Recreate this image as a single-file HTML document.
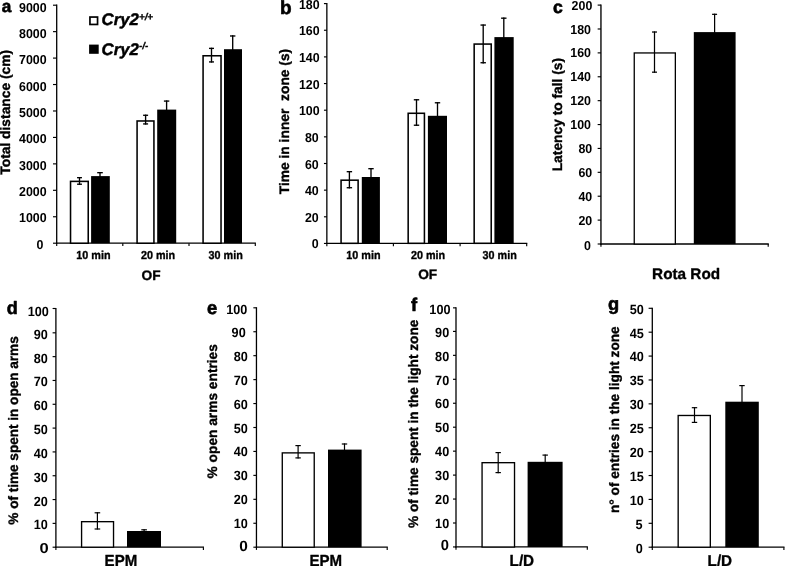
<!DOCTYPE html>
<html><head><meta charset="utf-8"><title>Figure</title>
<style>
html,body{margin:0;padding:0;background:#fff;}
body{width:787px;height:566px;overflow:hidden;}
svg{display:block;font-family:"Liberation Sans", sans-serif;fill:#000;will-change:transform;text-rendering:geometricPrecision;}
</style></head><body>
<svg width="787" height="566" viewBox="0 0 787 566">
<rect x="0" y="0" width="787" height="566" fill="#fff"/>
<line x1="56.70" y1="4.60" x2="56.70" y2="243.85" stroke="#000" stroke-width="1.3"/>
<line x1="56.05" y1="243.20" x2="255.90" y2="243.20" stroke="#000" stroke-width="1.3"/>
<line x1="53.00" y1="243.20" x2="56.70" y2="243.20" stroke="#000" stroke-width="1.15"/>
<text x="43.50" y="248.50" font-size="13.0" font-weight="bold" font-style="normal" text-anchor="end" textLength="6.90" lengthAdjust="spacingAndGlyphs">0</text>
<line x1="53.00" y1="216.76" x2="56.70" y2="216.76" stroke="#000" stroke-width="1.15"/>
<text x="46.60" y="222.44" font-size="13.0" font-weight="bold" font-style="normal" text-anchor="end" textLength="27.60" lengthAdjust="spacingAndGlyphs">1000</text>
<line x1="53.00" y1="190.31" x2="56.70" y2="190.31" stroke="#000" stroke-width="1.15"/>
<text x="46.60" y="196.07" font-size="13.0" font-weight="bold" font-style="normal" text-anchor="end" textLength="27.60" lengthAdjust="spacingAndGlyphs">2000</text>
<line x1="53.00" y1="163.87" x2="56.70" y2="163.87" stroke="#000" stroke-width="1.15"/>
<text x="46.60" y="169.71" font-size="13.0" font-weight="bold" font-style="normal" text-anchor="end" textLength="27.60" lengthAdjust="spacingAndGlyphs">3000</text>
<line x1="53.00" y1="137.42" x2="56.70" y2="137.42" stroke="#000" stroke-width="1.15"/>
<text x="46.60" y="143.34" font-size="13.0" font-weight="bold" font-style="normal" text-anchor="end" textLength="27.60" lengthAdjust="spacingAndGlyphs">4000</text>
<line x1="53.00" y1="110.98" x2="56.70" y2="110.98" stroke="#000" stroke-width="1.15"/>
<text x="46.60" y="116.98" font-size="13.0" font-weight="bold" font-style="normal" text-anchor="end" textLength="27.60" lengthAdjust="spacingAndGlyphs">5000</text>
<line x1="53.00" y1="84.53" x2="56.70" y2="84.53" stroke="#000" stroke-width="1.15"/>
<text x="46.60" y="90.61" font-size="13.0" font-weight="bold" font-style="normal" text-anchor="end" textLength="27.60" lengthAdjust="spacingAndGlyphs">6000</text>
<line x1="53.00" y1="58.09" x2="56.70" y2="58.09" stroke="#000" stroke-width="1.15"/>
<text x="46.60" y="64.25" font-size="13.0" font-weight="bold" font-style="normal" text-anchor="end" textLength="27.60" lengthAdjust="spacingAndGlyphs">7000</text>
<line x1="53.00" y1="31.64" x2="56.70" y2="31.64" stroke="#000" stroke-width="1.15"/>
<text x="46.60" y="37.88" font-size="13.0" font-weight="bold" font-style="normal" text-anchor="end" textLength="27.60" lengthAdjust="spacingAndGlyphs">8000</text>
<line x1="53.00" y1="5.20" x2="56.70" y2="5.20" stroke="#000" stroke-width="1.15"/>
<text x="46.60" y="12.12" font-size="13.0" font-weight="bold" font-style="normal" text-anchor="end" textLength="27.60" lengthAdjust="spacingAndGlyphs">9000</text>
<line x1="56.70" y1="243.20" x2="56.70" y2="245.90" stroke="#000" stroke-width="1.15"/>
<line x1="122.80" y1="243.20" x2="122.80" y2="245.90" stroke="#000" stroke-width="1.15"/>
<line x1="189.00" y1="243.20" x2="189.00" y2="245.90" stroke="#000" stroke-width="1.15"/>
<line x1="255.30" y1="243.20" x2="255.30" y2="245.90" stroke="#000" stroke-width="1.15"/>
<rect x="70.53" y="181.38" width="17.70" height="61.82" fill="#fff" stroke="#000" stroke-width="1.55"/>
<rect x="91.10" y="176.10" width="18.70" height="67.10" fill="#000"/>
<line x1="79.50" y1="177.00" x2="79.50" y2="184.90" stroke="#000" stroke-width="1.35"/>
<line x1="77.05" y1="177.68" x2="81.95" y2="177.68" stroke="#000" stroke-width="1.35"/>
<line x1="77.05" y1="184.22" x2="81.95" y2="184.22" stroke="#000" stroke-width="1.35"/>
<line x1="100.00" y1="172.00" x2="100.00" y2="177.50" stroke="#000" stroke-width="1.35"/>
<line x1="97.20" y1="172.68" x2="102.80" y2="172.68" stroke="#000" stroke-width="1.35"/>
<rect x="137.08" y="120.98" width="16.85" height="122.22" fill="#fff" stroke="#000" stroke-width="1.55"/>
<rect x="157.20" y="109.60" width="19.00" height="133.60" fill="#000"/>
<line x1="145.60" y1="114.60" x2="145.60" y2="124.60" stroke="#000" stroke-width="1.35"/>
<line x1="143.10" y1="115.28" x2="148.10" y2="115.28" stroke="#000" stroke-width="1.35"/>
<line x1="143.10" y1="123.92" x2="148.10" y2="123.92" stroke="#000" stroke-width="1.35"/>
<line x1="166.60" y1="100.40" x2="166.60" y2="111.00" stroke="#000" stroke-width="1.35"/>
<line x1="163.90" y1="101.08" x2="169.30" y2="101.08" stroke="#000" stroke-width="1.35"/>
<rect x="203.08" y="55.77" width="17.95" height="187.42" fill="#fff" stroke="#000" stroke-width="1.55"/>
<rect x="224.00" y="49.20" width="18.00" height="194.00" fill="#000"/>
<line x1="211.50" y1="47.70" x2="211.50" y2="62.60" stroke="#000" stroke-width="1.35"/>
<line x1="209.00" y1="48.38" x2="214.00" y2="48.38" stroke="#000" stroke-width="1.35"/>
<line x1="209.00" y1="61.92" x2="214.00" y2="61.92" stroke="#000" stroke-width="1.35"/>
<line x1="232.70" y1="35.30" x2="232.70" y2="51.00" stroke="#000" stroke-width="1.35"/>
<line x1="230.00" y1="35.98" x2="235.40" y2="35.98" stroke="#000" stroke-width="1.35"/>
<text x="93.40" y="258.80" font-size="11.6" font-weight="bold" font-style="normal" text-anchor="middle" textLength="34.20" lengthAdjust="spacingAndGlyphs" stroke="#000" stroke-width="0.35" stroke-linejoin="round">10 min</text>
<text x="158.10" y="258.80" font-size="11.6" font-weight="bold" font-style="normal" text-anchor="middle" textLength="34.20" lengthAdjust="spacingAndGlyphs" stroke="#000" stroke-width="0.35" stroke-linejoin="round">20 min</text>
<text x="225.70" y="258.80" font-size="11.6" font-weight="bold" font-style="normal" text-anchor="middle" textLength="34.20" lengthAdjust="spacingAndGlyphs" stroke="#000" stroke-width="0.35" stroke-linejoin="round">30 min</text>
<text x="141.60" y="279.60" font-size="13.7" font-weight="bold" font-style="normal" text-anchor="start" stroke="#000" stroke-width="0.35" stroke-linejoin="round">OF</text>
<text x="1.70" y="12.00" font-size="17.2" font-weight="bold" font-style="normal" text-anchor="start" stroke="#000" stroke-width="0.6" stroke-linejoin="round">a</text>
<text transform="translate(10.10,174.70) rotate(-90)" font-size="13.7" font-weight="bold" textLength="124.80" lengthAdjust="spacingAndGlyphs" stroke="#000" stroke-width="0.35" stroke-linejoin="round" xml:space="preserve" style="white-space:pre">Total distance (cm)</text>
<rect x="89.95" y="17.05" width="7.6" height="7.4" fill="#fff" stroke="#000" stroke-width="1.7"/>
<rect x="89.1" y="44.6" width="9.6" height="9.2" fill="#000"/>
<text x="101.6" y="25.3" font-size="16.8" font-weight="bold" font-style="italic" stroke="#000" stroke-width="0.45" stroke-linejoin="round">Cry2<tspan dy="-5.3" font-size="9.8" stroke-width="0.3">+/+</tspan></text>
<text x="101.6" y="54.5" font-size="16.8" font-weight="bold" font-style="italic" stroke="#000" stroke-width="0.45" stroke-linejoin="round">Cry2<tspan dy="-5.3" font-size="9.8" stroke-width="0.3">-/-</tspan></text>
<line x1="326.85" y1="3.00" x2="326.85" y2="244.10" stroke="#000" stroke-width="1.3"/>
<line x1="326.20" y1="243.45" x2="527.30" y2="243.45" stroke="#000" stroke-width="1.3"/>
<line x1="323.95" y1="243.45" x2="326.85" y2="243.45" stroke="#000" stroke-width="1.15"/>
<text x="318.60" y="247.75" font-size="13.0" font-weight="bold" font-style="normal" text-anchor="end" textLength="6.90" lengthAdjust="spacingAndGlyphs">0</text>
<line x1="323.95" y1="216.80" x2="326.85" y2="216.80" stroke="#000" stroke-width="1.15"/>
<text x="318.70" y="222.00" font-size="13.0" font-weight="bold" font-style="normal" text-anchor="end" textLength="13.80" lengthAdjust="spacingAndGlyphs">20</text>
<line x1="323.95" y1="190.15" x2="326.85" y2="190.15" stroke="#000" stroke-width="1.15"/>
<text x="318.70" y="195.35" font-size="13.0" font-weight="bold" font-style="normal" text-anchor="end" textLength="13.80" lengthAdjust="spacingAndGlyphs">40</text>
<line x1="323.95" y1="163.50" x2="326.85" y2="163.50" stroke="#000" stroke-width="1.15"/>
<text x="318.70" y="168.70" font-size="13.0" font-weight="bold" font-style="normal" text-anchor="end" textLength="13.80" lengthAdjust="spacingAndGlyphs">60</text>
<line x1="323.95" y1="136.85" x2="326.85" y2="136.85" stroke="#000" stroke-width="1.15"/>
<text x="318.70" y="142.05" font-size="13.0" font-weight="bold" font-style="normal" text-anchor="end" textLength="13.80" lengthAdjust="spacingAndGlyphs">80</text>
<line x1="323.95" y1="110.20" x2="326.85" y2="110.20" stroke="#000" stroke-width="1.15"/>
<text x="319.60" y="115.40" font-size="13.0" font-weight="bold" font-style="normal" text-anchor="end" textLength="20.70" lengthAdjust="spacingAndGlyphs">100</text>
<line x1="323.95" y1="83.55" x2="326.85" y2="83.55" stroke="#000" stroke-width="1.15"/>
<text x="319.60" y="88.75" font-size="13.0" font-weight="bold" font-style="normal" text-anchor="end" textLength="20.70" lengthAdjust="spacingAndGlyphs">120</text>
<line x1="323.95" y1="56.90" x2="326.85" y2="56.90" stroke="#000" stroke-width="1.15"/>
<text x="319.60" y="62.10" font-size="13.0" font-weight="bold" font-style="normal" text-anchor="end" textLength="20.70" lengthAdjust="spacingAndGlyphs">140</text>
<line x1="323.95" y1="30.25" x2="326.85" y2="30.25" stroke="#000" stroke-width="1.15"/>
<text x="319.60" y="35.45" font-size="13.0" font-weight="bold" font-style="normal" text-anchor="end" textLength="20.70" lengthAdjust="spacingAndGlyphs">160</text>
<line x1="323.95" y1="3.60" x2="326.85" y2="3.60" stroke="#000" stroke-width="1.15"/>
<text x="319.60" y="8.60" font-size="13.0" font-weight="bold" font-style="normal" text-anchor="end" textLength="20.70" lengthAdjust="spacingAndGlyphs">180</text>
<line x1="326.85" y1="243.45" x2="326.85" y2="246.15" stroke="#000" stroke-width="1.15"/>
<line x1="393.40" y1="243.45" x2="393.40" y2="246.15" stroke="#000" stroke-width="1.15"/>
<line x1="460.10" y1="243.45" x2="460.10" y2="246.15" stroke="#000" stroke-width="1.15"/>
<line x1="526.70" y1="243.45" x2="526.70" y2="246.15" stroke="#000" stroke-width="1.15"/>
<rect x="341.07" y="180.18" width="17.05" height="63.13" fill="#fff" stroke="#000" stroke-width="1.55"/>
<rect x="361.80" y="177.00" width="18.10" height="66.30" fill="#000"/>
<line x1="349.40" y1="171.00" x2="349.40" y2="188.40" stroke="#000" stroke-width="1.35"/>
<line x1="346.70" y1="171.68" x2="352.10" y2="171.68" stroke="#000" stroke-width="1.35"/>
<line x1="346.70" y1="187.72" x2="352.10" y2="187.72" stroke="#000" stroke-width="1.35"/>
<line x1="371.00" y1="168.00" x2="371.00" y2="178.50" stroke="#000" stroke-width="1.35"/>
<line x1="368.30" y1="168.68" x2="373.70" y2="168.68" stroke="#000" stroke-width="1.35"/>
<rect x="408.17" y="113.28" width="16.25" height="130.03" fill="#fff" stroke="#000" stroke-width="1.55"/>
<rect x="427.90" y="115.80" width="19.10" height="127.50" fill="#000"/>
<line x1="416.50" y1="99.10" x2="416.50" y2="125.90" stroke="#000" stroke-width="1.35"/>
<line x1="413.80" y1="99.78" x2="419.20" y2="99.78" stroke="#000" stroke-width="1.35"/>
<line x1="413.80" y1="125.22" x2="419.20" y2="125.22" stroke="#000" stroke-width="1.35"/>
<line x1="437.50" y1="102.10" x2="437.50" y2="117.00" stroke="#000" stroke-width="1.35"/>
<line x1="434.80" y1="102.78" x2="440.20" y2="102.78" stroke="#000" stroke-width="1.35"/>
<rect x="474.17" y="44.07" width="17.05" height="199.22" fill="#fff" stroke="#000" stroke-width="1.55"/>
<rect x="494.40" y="37.10" width="19.30" height="206.20" fill="#000"/>
<line x1="483.20" y1="24.40" x2="483.20" y2="63.40" stroke="#000" stroke-width="1.35"/>
<line x1="480.50" y1="25.07" x2="485.90" y2="25.07" stroke="#000" stroke-width="1.35"/>
<line x1="480.50" y1="62.73" x2="485.90" y2="62.73" stroke="#000" stroke-width="1.35"/>
<line x1="503.80" y1="17.50" x2="503.80" y2="38.50" stroke="#000" stroke-width="1.35"/>
<line x1="501.10" y1="18.18" x2="506.50" y2="18.18" stroke="#000" stroke-width="1.35"/>
<text x="363.40" y="258.70" font-size="11.6" font-weight="bold" font-style="normal" text-anchor="middle" textLength="34.20" lengthAdjust="spacingAndGlyphs" stroke="#000" stroke-width="0.35" stroke-linejoin="round">10 min</text>
<text x="428.10" y="258.70" font-size="11.6" font-weight="bold" font-style="normal" text-anchor="middle" textLength="34.20" lengthAdjust="spacingAndGlyphs" stroke="#000" stroke-width="0.35" stroke-linejoin="round">20 min</text>
<text x="499.70" y="258.70" font-size="11.6" font-weight="bold" font-style="normal" text-anchor="middle" textLength="34.20" lengthAdjust="spacingAndGlyphs" stroke="#000" stroke-width="0.35" stroke-linejoin="round">30 min</text>
<text x="418.20" y="279.10" font-size="13.7" font-weight="bold" font-style="normal" text-anchor="start" stroke="#000" stroke-width="0.35" stroke-linejoin="round">OF</text>
<text x="279.90" y="13.50" font-size="19.0" font-weight="bold" font-style="normal" text-anchor="start" stroke="#000" stroke-width="0.6" stroke-linejoin="round">b</text>
<text transform="translate(289.10,194.30) rotate(-90)" font-size="13.7" font-weight="bold" textLength="145.50" lengthAdjust="spacingAndGlyphs" stroke="#000" stroke-width="0.35" stroke-linejoin="round" xml:space="preserve" style="white-space:pre">Time in inner  zone (s)</text>
<line x1="600.95" y1="4.50" x2="600.95" y2="244.65" stroke="#000" stroke-width="1.35"/>
<line x1="600.30" y1="244.00" x2="768.80" y2="244.00" stroke="#000" stroke-width="1.35"/>
<line x1="597.65" y1="244.00" x2="600.95" y2="244.00" stroke="#000" stroke-width="1.15"/>
<text x="590.90" y="249.60" font-size="13.0" font-weight="bold" font-style="normal" text-anchor="end" textLength="6.90" lengthAdjust="spacingAndGlyphs">0</text>
<line x1="597.65" y1="220.11" x2="600.95" y2="220.11" stroke="#000" stroke-width="1.15"/>
<text x="592.20" y="224.71" font-size="13.0" font-weight="bold" font-style="normal" text-anchor="end" textLength="13.80" lengthAdjust="spacingAndGlyphs">20</text>
<line x1="597.65" y1="196.22" x2="600.95" y2="196.22" stroke="#000" stroke-width="1.15"/>
<text x="592.20" y="200.82" font-size="13.0" font-weight="bold" font-style="normal" text-anchor="end" textLength="13.80" lengthAdjust="spacingAndGlyphs">40</text>
<line x1="597.65" y1="172.33" x2="600.95" y2="172.33" stroke="#000" stroke-width="1.15"/>
<text x="592.20" y="176.93" font-size="13.0" font-weight="bold" font-style="normal" text-anchor="end" textLength="13.80" lengthAdjust="spacingAndGlyphs">60</text>
<line x1="597.65" y1="148.44" x2="600.95" y2="148.44" stroke="#000" stroke-width="1.15"/>
<text x="592.20" y="153.04" font-size="13.0" font-weight="bold" font-style="normal" text-anchor="end" textLength="13.80" lengthAdjust="spacingAndGlyphs">80</text>
<line x1="597.65" y1="124.55" x2="600.95" y2="124.55" stroke="#000" stroke-width="1.15"/>
<text x="591.00" y="129.15" font-size="13.0" font-weight="bold" font-style="normal" text-anchor="end" textLength="20.70" lengthAdjust="spacingAndGlyphs">100</text>
<line x1="597.65" y1="100.66" x2="600.95" y2="100.66" stroke="#000" stroke-width="1.15"/>
<text x="591.00" y="105.26" font-size="13.0" font-weight="bold" font-style="normal" text-anchor="end" textLength="20.70" lengthAdjust="spacingAndGlyphs">120</text>
<line x1="597.65" y1="76.77" x2="600.95" y2="76.77" stroke="#000" stroke-width="1.15"/>
<text x="591.00" y="81.37" font-size="13.0" font-weight="bold" font-style="normal" text-anchor="end" textLength="20.70" lengthAdjust="spacingAndGlyphs">140</text>
<line x1="597.65" y1="52.88" x2="600.95" y2="52.88" stroke="#000" stroke-width="1.15"/>
<text x="591.00" y="57.48" font-size="13.0" font-weight="bold" font-style="normal" text-anchor="end" textLength="20.70" lengthAdjust="spacingAndGlyphs">160</text>
<line x1="597.65" y1="28.99" x2="600.95" y2="28.99" stroke="#000" stroke-width="1.15"/>
<text x="591.00" y="33.59" font-size="13.0" font-weight="bold" font-style="normal" text-anchor="end" textLength="20.70" lengthAdjust="spacingAndGlyphs">180</text>
<line x1="597.65" y1="5.10" x2="600.95" y2="5.10" stroke="#000" stroke-width="1.15"/>
<text x="592.30" y="10.10" font-size="13.0" font-weight="bold" font-style="normal" text-anchor="end" textLength="20.70" lengthAdjust="spacingAndGlyphs">200</text>
<line x1="600.95" y1="244.00" x2="600.95" y2="246.70" stroke="#000" stroke-width="1.15"/>
<line x1="768.20" y1="244.00" x2="768.20" y2="246.70" stroke="#000" stroke-width="1.15"/>
<rect x="634.25" y="52.95" width="41.10" height="191.05" fill="#fff" stroke="#000" stroke-width="1.3"/>
<rect x="693.80" y="32.10" width="41.80" height="211.90" fill="#000"/>
<line x1="654.50" y1="31.40" x2="654.50" y2="72.80" stroke="#000" stroke-width="1.25"/>
<line x1="652.00" y1="32.02" x2="657.00" y2="32.02" stroke="#000" stroke-width="1.25"/>
<line x1="652.00" y1="72.17" x2="657.00" y2="72.17" stroke="#000" stroke-width="1.25"/>
<line x1="714.60" y1="13.70" x2="714.60" y2="34.50" stroke="#000" stroke-width="1.25"/>
<line x1="712.10" y1="14.32" x2="717.10" y2="14.32" stroke="#000" stroke-width="1.25"/>
<text x="652.10" y="279.10" font-size="15.3" font-weight="bold" font-style="normal" text-anchor="start" stroke="#000" stroke-width="0.35" stroke-linejoin="round">Rota Rod</text>
<text x="553.00" y="12.60" font-size="17.6" font-weight="bold" font-style="normal" text-anchor="start" stroke="#000" stroke-width="0.6" stroke-linejoin="round">c</text>
<text transform="translate(561.60,171.30) rotate(-90)" font-size="13.7" font-weight="bold" textLength="113.40" lengthAdjust="spacingAndGlyphs" stroke="#000" stroke-width="0.35" stroke-linejoin="round" xml:space="preserve" style="white-space:pre">Latency to fall (s)</text>
<line x1="55.90" y1="307.90" x2="55.90" y2="547.85" stroke="#000" stroke-width="1.3"/>
<line x1="55.25" y1="547.20" x2="204.00" y2="547.20" stroke="#000" stroke-width="1.3"/>
<line x1="52.60" y1="547.20" x2="55.90" y2="547.20" stroke="#000" stroke-width="1.15"/>
<text x="48.60" y="552.60" font-size="14.5" font-weight="bold" font-style="normal" text-anchor="end" textLength="9.20" lengthAdjust="spacingAndGlyphs">0</text>
<line x1="52.60" y1="523.38" x2="55.90" y2="523.38" stroke="#000" stroke-width="1.15"/>
<text x="47.80" y="529.38" font-size="13.4" font-weight="bold" font-style="normal" text-anchor="end" textLength="14.10" lengthAdjust="spacingAndGlyphs">10</text>
<line x1="52.60" y1="499.56" x2="55.90" y2="499.56" stroke="#000" stroke-width="1.15"/>
<text x="47.80" y="505.56" font-size="13.4" font-weight="bold" font-style="normal" text-anchor="end" textLength="14.10" lengthAdjust="spacingAndGlyphs">20</text>
<line x1="52.60" y1="475.74" x2="55.90" y2="475.74" stroke="#000" stroke-width="1.15"/>
<text x="47.80" y="481.74" font-size="13.4" font-weight="bold" font-style="normal" text-anchor="end" textLength="14.10" lengthAdjust="spacingAndGlyphs">30</text>
<line x1="52.60" y1="451.92" x2="55.90" y2="451.92" stroke="#000" stroke-width="1.15"/>
<text x="47.80" y="457.92" font-size="13.4" font-weight="bold" font-style="normal" text-anchor="end" textLength="14.10" lengthAdjust="spacingAndGlyphs">40</text>
<line x1="52.60" y1="428.10" x2="55.90" y2="428.10" stroke="#000" stroke-width="1.15"/>
<text x="47.80" y="434.10" font-size="13.4" font-weight="bold" font-style="normal" text-anchor="end" textLength="14.10" lengthAdjust="spacingAndGlyphs">50</text>
<line x1="52.60" y1="404.28" x2="55.90" y2="404.28" stroke="#000" stroke-width="1.15"/>
<text x="47.80" y="410.28" font-size="13.4" font-weight="bold" font-style="normal" text-anchor="end" textLength="14.10" lengthAdjust="spacingAndGlyphs">60</text>
<line x1="52.60" y1="380.46" x2="55.90" y2="380.46" stroke="#000" stroke-width="1.15"/>
<text x="47.80" y="386.46" font-size="13.4" font-weight="bold" font-style="normal" text-anchor="end" textLength="14.10" lengthAdjust="spacingAndGlyphs">70</text>
<line x1="52.60" y1="356.64" x2="55.90" y2="356.64" stroke="#000" stroke-width="1.15"/>
<text x="47.80" y="362.64" font-size="13.4" font-weight="bold" font-style="normal" text-anchor="end" textLength="14.10" lengthAdjust="spacingAndGlyphs">80</text>
<line x1="52.60" y1="332.82" x2="55.90" y2="332.82" stroke="#000" stroke-width="1.15"/>
<text x="47.80" y="338.82" font-size="13.4" font-weight="bold" font-style="normal" text-anchor="end" textLength="14.10" lengthAdjust="spacingAndGlyphs">90</text>
<line x1="52.60" y1="308.50" x2="55.90" y2="308.50" stroke="#000" stroke-width="1.15"/>
<text x="48.80" y="315.50" font-size="13.4" font-weight="bold" font-style="normal" text-anchor="end" textLength="21.15" lengthAdjust="spacingAndGlyphs">100</text>
<line x1="55.90" y1="547.20" x2="55.90" y2="549.90" stroke="#000" stroke-width="1.15"/>
<line x1="203.40" y1="547.20" x2="203.40" y2="549.90" stroke="#000" stroke-width="1.15"/>
<rect x="81.58" y="521.67" width="31.95" height="25.53" fill="#fff" stroke="#000" stroke-width="1.35"/>
<rect x="127.00" y="531.00" width="34.00" height="16.20" fill="#000"/>
<line x1="97.40" y1="512.20" x2="97.40" y2="529.60" stroke="#000" stroke-width="1.2"/>
<line x1="94.60" y1="512.80" x2="100.20" y2="512.80" stroke="#000" stroke-width="1.2"/>
<line x1="94.60" y1="529.00" x2="100.20" y2="529.00" stroke="#000" stroke-width="1.2"/>
<line x1="144.10" y1="529.20" x2="144.10" y2="532.50" stroke="#000" stroke-width="1.2"/>
<line x1="141.30" y1="529.80" x2="146.90" y2="529.80" stroke="#000" stroke-width="1.2"/>
<text x="104.60" y="565.90" font-size="16.0" font-weight="bold" font-style="normal" text-anchor="start" textLength="32.60" lengthAdjust="spacingAndGlyphs" stroke="#000" stroke-width="0.35" stroke-linejoin="round">EPM</text>
<text x="6.80" y="314.00" font-size="18" font-weight="bold" font-style="normal" text-anchor="start" stroke="#000" stroke-width="0.6" stroke-linejoin="round">d</text>
<text transform="translate(17.60,524.70) rotate(-90)" font-size="13.7" font-weight="bold" textLength="188.40" lengthAdjust="spacingAndGlyphs" stroke="#000" stroke-width="0.35" stroke-linejoin="round" xml:space="preserve" style="white-space:pre">% of time spent in open arms</text>
<line x1="256.45" y1="307.20" x2="256.45" y2="547.85" stroke="#000" stroke-width="1.3"/>
<line x1="255.80" y1="547.20" x2="387.80" y2="547.20" stroke="#000" stroke-width="1.3"/>
<line x1="253.35" y1="547.20" x2="256.45" y2="547.20" stroke="#000" stroke-width="1.15"/>
<text x="247.85" y="550.70" font-size="14.8" font-weight="bold" font-style="normal" text-anchor="end" textLength="8.60" lengthAdjust="spacingAndGlyphs">0</text>
<line x1="253.35" y1="523.26" x2="256.45" y2="523.26" stroke="#000" stroke-width="1.15"/>
<text x="247.80" y="527.86" font-size="13.4" font-weight="bold" font-style="normal" text-anchor="end" textLength="14.10" lengthAdjust="spacingAndGlyphs">10</text>
<line x1="253.35" y1="499.32" x2="256.45" y2="499.32" stroke="#000" stroke-width="1.15"/>
<text x="247.80" y="504.02" font-size="13.4" font-weight="bold" font-style="normal" text-anchor="end" textLength="14.10" lengthAdjust="spacingAndGlyphs">20</text>
<line x1="253.35" y1="475.38" x2="256.45" y2="475.38" stroke="#000" stroke-width="1.15"/>
<text x="247.80" y="480.18" font-size="13.4" font-weight="bold" font-style="normal" text-anchor="end" textLength="14.10" lengthAdjust="spacingAndGlyphs">30</text>
<line x1="253.35" y1="451.44" x2="256.45" y2="451.44" stroke="#000" stroke-width="1.15"/>
<text x="247.80" y="456.34" font-size="13.4" font-weight="bold" font-style="normal" text-anchor="end" textLength="14.10" lengthAdjust="spacingAndGlyphs">40</text>
<line x1="253.35" y1="427.50" x2="256.45" y2="427.50" stroke="#000" stroke-width="1.15"/>
<text x="247.80" y="432.50" font-size="13.4" font-weight="bold" font-style="normal" text-anchor="end" textLength="14.10" lengthAdjust="spacingAndGlyphs">50</text>
<line x1="253.35" y1="403.56" x2="256.45" y2="403.56" stroke="#000" stroke-width="1.15"/>
<text x="247.80" y="408.66" font-size="13.4" font-weight="bold" font-style="normal" text-anchor="end" textLength="14.10" lengthAdjust="spacingAndGlyphs">60</text>
<line x1="253.35" y1="379.62" x2="256.45" y2="379.62" stroke="#000" stroke-width="1.15"/>
<text x="247.80" y="384.82" font-size="13.4" font-weight="bold" font-style="normal" text-anchor="end" textLength="14.10" lengthAdjust="spacingAndGlyphs">70</text>
<line x1="253.35" y1="355.68" x2="256.45" y2="355.68" stroke="#000" stroke-width="1.15"/>
<text x="247.80" y="360.98" font-size="13.4" font-weight="bold" font-style="normal" text-anchor="end" textLength="14.10" lengthAdjust="spacingAndGlyphs">80</text>
<line x1="253.35" y1="331.74" x2="256.45" y2="331.74" stroke="#000" stroke-width="1.15"/>
<text x="245.70" y="337.14" font-size="13.4" font-weight="bold" font-style="normal" text-anchor="end" textLength="14.10" lengthAdjust="spacingAndGlyphs">90</text>
<line x1="253.35" y1="307.80" x2="256.45" y2="307.80" stroke="#000" stroke-width="1.15"/>
<text x="247.40" y="314.20" font-size="13.4" font-weight="bold" font-style="normal" text-anchor="end" textLength="21.15" lengthAdjust="spacingAndGlyphs">100</text>
<line x1="256.45" y1="547.20" x2="256.45" y2="549.90" stroke="#000" stroke-width="1.15"/>
<line x1="387.20" y1="547.20" x2="387.20" y2="549.90" stroke="#000" stroke-width="1.15"/>
<rect x="282.28" y="452.88" width="31.95" height="94.33" fill="#fff" stroke="#000" stroke-width="1.35"/>
<rect x="328.00" y="449.60" width="33.60" height="97.60" fill="#000"/>
<line x1="298.10" y1="445.00" x2="298.10" y2="458.50" stroke="#000" stroke-width="1.2"/>
<line x1="295.40" y1="445.60" x2="300.80" y2="445.60" stroke="#000" stroke-width="1.2"/>
<line x1="295.40" y1="457.90" x2="300.80" y2="457.90" stroke="#000" stroke-width="1.2"/>
<line x1="344.50" y1="443.40" x2="344.50" y2="451.00" stroke="#000" stroke-width="1.2"/>
<line x1="341.80" y1="444.00" x2="347.20" y2="444.00" stroke="#000" stroke-width="1.2"/>
<text x="309.50" y="565.90" font-size="16.0" font-weight="bold" font-style="normal" text-anchor="start" textLength="32.60" lengthAdjust="spacingAndGlyphs" stroke="#000" stroke-width="0.35" stroke-linejoin="round">EPM</text>
<text x="206.90" y="313.60" font-size="18.3" font-weight="bold" font-style="normal" text-anchor="start" stroke="#000" stroke-width="0.6" stroke-linejoin="round">e</text>
<text transform="translate(216.50,478.40) rotate(-90)" font-size="13.7" font-weight="bold" textLength="134.30" lengthAdjust="spacingAndGlyphs" stroke="#000" stroke-width="0.35" stroke-linejoin="round" xml:space="preserve" style="white-space:pre">% open arms entries</text>
<line x1="456.00" y1="307.25" x2="456.00" y2="547.60" stroke="#000" stroke-width="1.3"/>
<line x1="455.35" y1="546.95" x2="587.90" y2="546.95" stroke="#000" stroke-width="1.3"/>
<line x1="453.00" y1="546.95" x2="456.00" y2="546.95" stroke="#000" stroke-width="1.15"/>
<text x="448.95" y="550.40" font-size="14.8" font-weight="bold" font-style="normal" text-anchor="end" textLength="8.20" lengthAdjust="spacingAndGlyphs">0</text>
<line x1="453.00" y1="523.00" x2="456.00" y2="523.00" stroke="#000" stroke-width="1.15"/>
<text x="449.20" y="527.61" font-size="13.4" font-weight="bold" font-style="normal" text-anchor="end" textLength="14.10" lengthAdjust="spacingAndGlyphs">10</text>
<line x1="453.00" y1="499.05" x2="456.00" y2="499.05" stroke="#000" stroke-width="1.15"/>
<text x="449.20" y="503.77" font-size="13.4" font-weight="bold" font-style="normal" text-anchor="end" textLength="14.10" lengthAdjust="spacingAndGlyphs">20</text>
<line x1="453.00" y1="475.10" x2="456.00" y2="475.10" stroke="#000" stroke-width="1.15"/>
<text x="449.20" y="479.93" font-size="13.4" font-weight="bold" font-style="normal" text-anchor="end" textLength="14.10" lengthAdjust="spacingAndGlyphs">30</text>
<line x1="453.00" y1="451.15" x2="456.00" y2="451.15" stroke="#000" stroke-width="1.15"/>
<text x="449.20" y="456.09" font-size="13.4" font-weight="bold" font-style="normal" text-anchor="end" textLength="14.10" lengthAdjust="spacingAndGlyphs">40</text>
<line x1="453.00" y1="427.20" x2="456.00" y2="427.20" stroke="#000" stroke-width="1.15"/>
<text x="449.20" y="432.25" font-size="13.4" font-weight="bold" font-style="normal" text-anchor="end" textLength="14.10" lengthAdjust="spacingAndGlyphs">50</text>
<line x1="453.00" y1="403.25" x2="456.00" y2="403.25" stroke="#000" stroke-width="1.15"/>
<text x="449.20" y="408.41" font-size="13.4" font-weight="bold" font-style="normal" text-anchor="end" textLength="14.10" lengthAdjust="spacingAndGlyphs">60</text>
<line x1="453.00" y1="379.30" x2="456.00" y2="379.30" stroke="#000" stroke-width="1.15"/>
<text x="449.20" y="384.57" font-size="13.4" font-weight="bold" font-style="normal" text-anchor="end" textLength="14.10" lengthAdjust="spacingAndGlyphs">70</text>
<line x1="453.00" y1="355.35" x2="456.00" y2="355.35" stroke="#000" stroke-width="1.15"/>
<text x="449.20" y="360.73" font-size="13.4" font-weight="bold" font-style="normal" text-anchor="end" textLength="14.10" lengthAdjust="spacingAndGlyphs">80</text>
<line x1="453.00" y1="331.40" x2="456.00" y2="331.40" stroke="#000" stroke-width="1.15"/>
<text x="449.20" y="336.89" font-size="13.4" font-weight="bold" font-style="normal" text-anchor="end" textLength="14.10" lengthAdjust="spacingAndGlyphs">90</text>
<line x1="453.00" y1="307.85" x2="456.00" y2="307.85" stroke="#000" stroke-width="1.15"/>
<text x="450.50" y="314.15" font-size="13.4" font-weight="bold" font-style="normal" text-anchor="end" textLength="21.15" lengthAdjust="spacingAndGlyphs">100</text>
<line x1="456.00" y1="546.95" x2="456.00" y2="549.65" stroke="#000" stroke-width="1.15"/>
<line x1="587.30" y1="546.95" x2="587.30" y2="549.65" stroke="#000" stroke-width="1.15"/>
<rect x="482.07" y="462.68" width="32.45" height="84.33" fill="#fff" stroke="#000" stroke-width="1.35"/>
<rect x="527.60" y="461.80" width="35.00" height="85.20" fill="#000"/>
<line x1="498.20" y1="452.00" x2="498.20" y2="473.20" stroke="#000" stroke-width="1.2"/>
<line x1="495.50" y1="452.60" x2="500.90" y2="452.60" stroke="#000" stroke-width="1.2"/>
<line x1="495.50" y1="472.60" x2="500.90" y2="472.60" stroke="#000" stroke-width="1.2"/>
<line x1="545.20" y1="454.50" x2="545.20" y2="463.50" stroke="#000" stroke-width="1.2"/>
<line x1="542.50" y1="455.10" x2="547.90" y2="455.10" stroke="#000" stroke-width="1.2"/>
<text x="509.60" y="566.20" font-size="16.0" font-weight="bold" font-style="normal" text-anchor="start" textLength="24.50" lengthAdjust="spacingAndGlyphs" stroke="#000" stroke-width="0.35" stroke-linejoin="round">L/D</text>
<text x="410.90" y="311.00" font-size="18.4" font-weight="bold" font-style="normal" text-anchor="start" stroke="#000" stroke-width="0.6" stroke-linejoin="round">f</text>
<text transform="translate(418.10,528.00) rotate(-90)" font-size="13.7" font-weight="bold" textLength="208.30" lengthAdjust="spacingAndGlyphs" stroke="#000" stroke-width="0.35" stroke-linejoin="round" xml:space="preserve" style="white-space:pre">% of time spent in the light zone</text>
<line x1="652.30" y1="307.70" x2="652.30" y2="547.85" stroke="#000" stroke-width="1.3"/>
<line x1="651.65" y1="547.20" x2="784.50" y2="547.20" stroke="#000" stroke-width="1.3"/>
<line x1="648.60" y1="547.20" x2="652.30" y2="547.20" stroke="#000" stroke-width="1.15"/>
<text x="642.90" y="552.60" font-size="13.4" font-weight="bold" font-style="normal" text-anchor="end" textLength="7.05" lengthAdjust="spacingAndGlyphs">0</text>
<line x1="648.60" y1="523.31" x2="652.30" y2="523.31" stroke="#000" stroke-width="1.15"/>
<text x="642.60" y="528.71" font-size="13.4" font-weight="bold" font-style="normal" text-anchor="end" textLength="7.05" lengthAdjust="spacingAndGlyphs">5</text>
<line x1="648.60" y1="499.42" x2="652.30" y2="499.42" stroke="#000" stroke-width="1.15"/>
<text x="643.90" y="504.82" font-size="13.4" font-weight="bold" font-style="normal" text-anchor="end" textLength="14.10" lengthAdjust="spacingAndGlyphs">10</text>
<line x1="648.60" y1="475.53" x2="652.30" y2="475.53" stroke="#000" stroke-width="1.15"/>
<text x="643.90" y="480.93" font-size="13.4" font-weight="bold" font-style="normal" text-anchor="end" textLength="14.10" lengthAdjust="spacingAndGlyphs">15</text>
<line x1="648.60" y1="451.64" x2="652.30" y2="451.64" stroke="#000" stroke-width="1.15"/>
<text x="643.90" y="457.04" font-size="13.4" font-weight="bold" font-style="normal" text-anchor="end" textLength="14.10" lengthAdjust="spacingAndGlyphs">20</text>
<line x1="648.60" y1="427.75" x2="652.30" y2="427.75" stroke="#000" stroke-width="1.15"/>
<text x="643.90" y="433.15" font-size="13.4" font-weight="bold" font-style="normal" text-anchor="end" textLength="14.10" lengthAdjust="spacingAndGlyphs">25</text>
<line x1="648.60" y1="403.86" x2="652.30" y2="403.86" stroke="#000" stroke-width="1.15"/>
<text x="643.90" y="409.26" font-size="13.4" font-weight="bold" font-style="normal" text-anchor="end" textLength="14.10" lengthAdjust="spacingAndGlyphs">30</text>
<line x1="648.60" y1="379.97" x2="652.30" y2="379.97" stroke="#000" stroke-width="1.15"/>
<text x="643.90" y="385.37" font-size="13.4" font-weight="bold" font-style="normal" text-anchor="end" textLength="14.10" lengthAdjust="spacingAndGlyphs">35</text>
<line x1="648.60" y1="356.08" x2="652.30" y2="356.08" stroke="#000" stroke-width="1.15"/>
<text x="643.90" y="361.48" font-size="13.4" font-weight="bold" font-style="normal" text-anchor="end" textLength="14.10" lengthAdjust="spacingAndGlyphs">40</text>
<line x1="648.60" y1="332.19" x2="652.30" y2="332.19" stroke="#000" stroke-width="1.15"/>
<text x="643.90" y="337.59" font-size="13.4" font-weight="bold" font-style="normal" text-anchor="end" textLength="14.10" lengthAdjust="spacingAndGlyphs">45</text>
<line x1="648.60" y1="308.30" x2="652.30" y2="308.30" stroke="#000" stroke-width="1.15"/>
<text x="643.90" y="314.00" font-size="13.4" font-weight="bold" font-style="normal" text-anchor="end" textLength="14.10" lengthAdjust="spacingAndGlyphs">50</text>
<line x1="652.30" y1="547.20" x2="652.30" y2="549.90" stroke="#000" stroke-width="1.15"/>
<line x1="783.90" y1="547.20" x2="783.90" y2="549.90" stroke="#000" stroke-width="1.15"/>
<rect x="678.17" y="415.48" width="32.15" height="131.73" fill="#fff" stroke="#000" stroke-width="1.35"/>
<rect x="725.30" y="401.70" width="33.50" height="145.50" fill="#000"/>
<line x1="694.50" y1="407.10" x2="694.50" y2="423.00" stroke="#000" stroke-width="1.2"/>
<line x1="691.80" y1="407.70" x2="697.20" y2="407.70" stroke="#000" stroke-width="1.2"/>
<line x1="691.80" y1="422.40" x2="697.20" y2="422.40" stroke="#000" stroke-width="1.2"/>
<line x1="742.00" y1="385.00" x2="742.00" y2="403.00" stroke="#000" stroke-width="1.2"/>
<line x1="739.30" y1="385.60" x2="744.70" y2="385.60" stroke="#000" stroke-width="1.2"/>
<text x="707.60" y="565.50" font-size="15.8" font-weight="bold" font-style="normal" text-anchor="start" textLength="24.50" lengthAdjust="spacingAndGlyphs" stroke="#000" stroke-width="0.35" stroke-linejoin="round">L/D</text>
<text x="608.00" y="309.90" font-size="18.3" font-weight="bold" font-style="normal" text-anchor="start" stroke="#000" stroke-width="0.6" stroke-linejoin="round">g</text>
<text transform="translate(619.30,513.00) rotate(-90)" font-size="13.7" font-weight="bold" textLength="186.70" lengthAdjust="spacingAndGlyphs" stroke="#000" stroke-width="0.35" stroke-linejoin="round" xml:space="preserve" style="white-space:pre">n° of entries in the light zone</text>
</svg>
</body></html>
